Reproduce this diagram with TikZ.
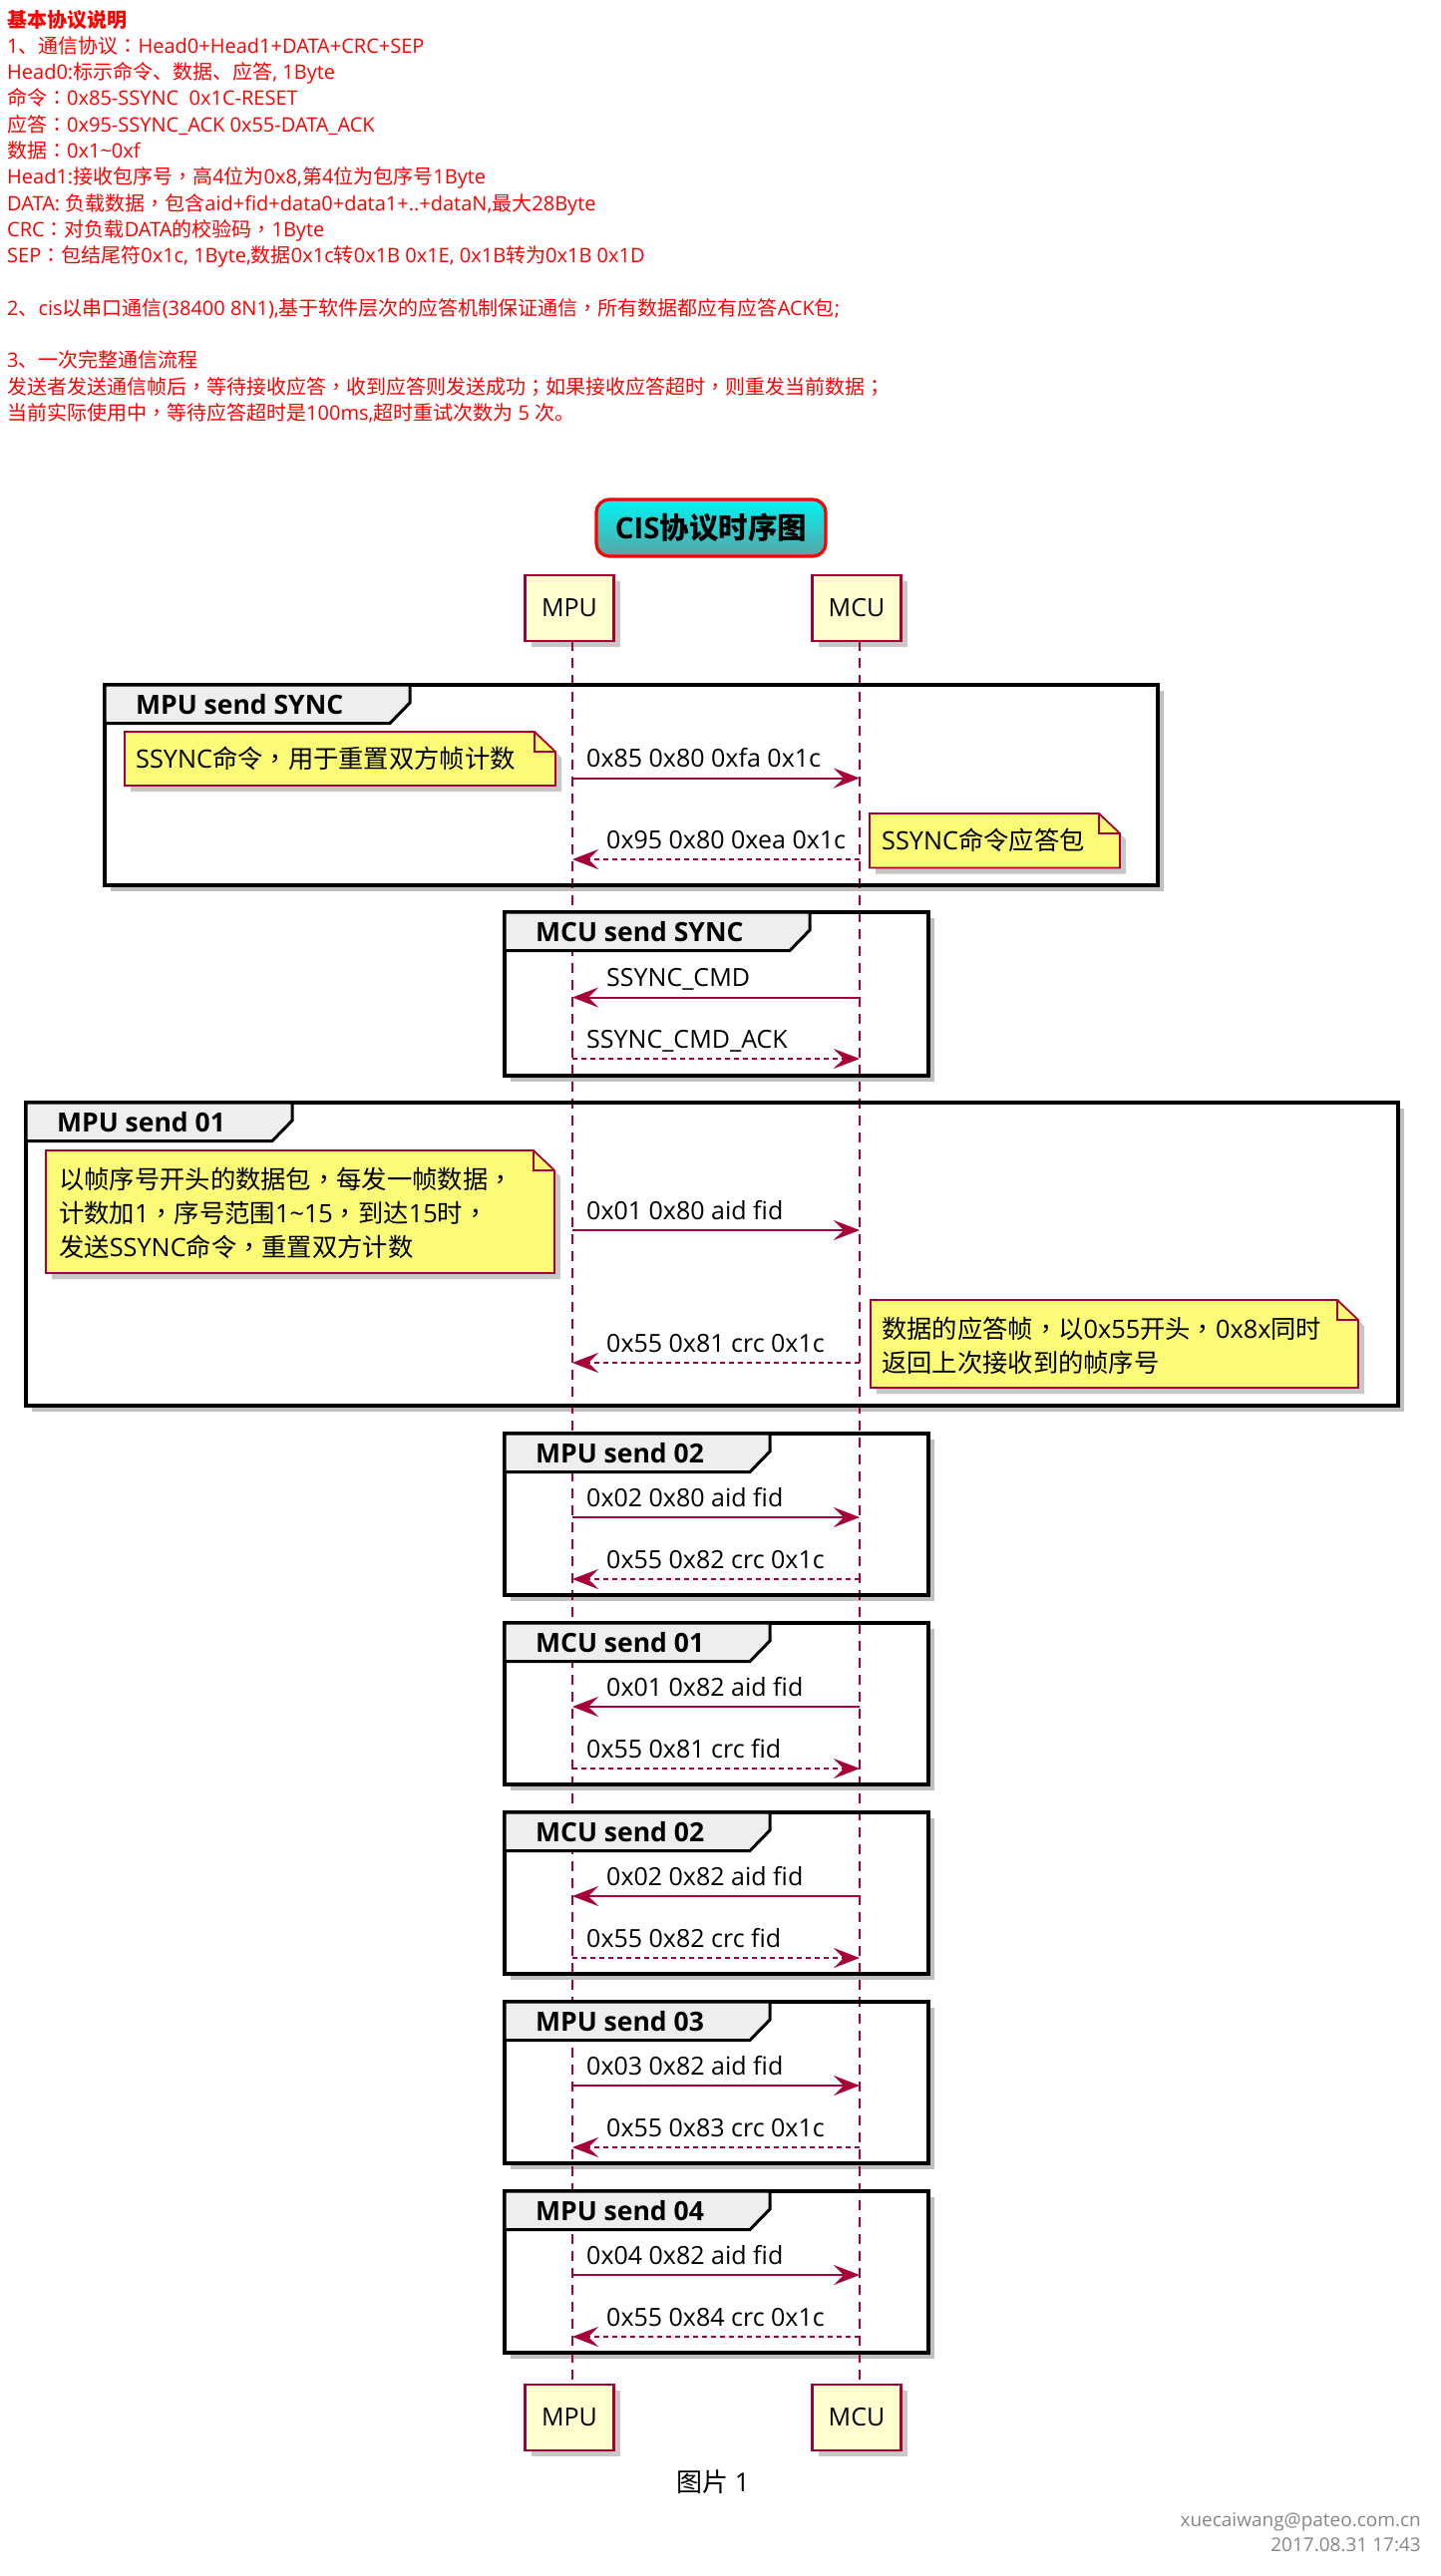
\documentclass[tikz,border=0pt]{standalone}
\usepackage{fontspec}
\setmainfont{Open Sans}
\newfontfamily\cjkf{Noto Sans CJK SC}
\newfontfamily\tcf{Noto Sans CJK TC}
\newfontfamily\latf{Open Sans}
\usetikzlibrary{arrows.meta,shadows}
\XeTeXinterchartokenstate=1
\newXeTeXintercharclass\CJKcls
\newXeTeXintercharclass\PUNcls
\newcount\cjkcnt
\cjkcnt="3000 \loop \XeTeXcharclass\cjkcnt=\CJKcls \advance\cjkcnt by 1 \ifnum\cjkcnt<"3040 \repeat
\cjkcnt="4E00 \loop \XeTeXcharclass\cjkcnt=\CJKcls \advance\cjkcnt by 1 \ifnum\cjkcnt<"A000 \repeat
\cjkcnt="FF00 \loop \XeTeXcharclass\cjkcnt=\CJKcls \advance\cjkcnt by 1 \ifnum\cjkcnt<"FFF0 \repeat
\XeTeXcharclass"FF0C=\PUNcls
\XeTeXcharclass"FF1A=\PUNcls
\XeTeXcharclass"FF1B=\PUNcls
\XeTeXinterchartoks 0 \CJKcls = {\cjkf}
\XeTeXinterchartoks 4095 \CJKcls = {\cjkf}
\XeTeXinterchartoks \PUNcls \CJKcls = {\cjkf}
\XeTeXinterchartoks \CJKcls 0 = {\latf}
\XeTeXinterchartoks \CJKcls 4095 = {\latf}
\XeTeXinterchartoks 0 \PUNcls = {\tcf}
\XeTeXinterchartoks 4095 \PUNcls = {\tcf}
\XeTeXinterchartoks \CJKcls \PUNcls = {\tcf}
\XeTeXinterchartoks \PUNcls 0 = {\latf}
\XeTeXinterchartoks \PUNcls 4095 = {\latf}
\definecolor{pumline}{HTML}{A80036}
\definecolor{pumpart}{HTML}{FEFECE}
\definecolor{pumnote}{HTML}{FBFB77}
\definecolor{tabgray}{HTML}{EEEEEE}
\definecolor{titletop}{HTML}{00F4F4}
\definecolor{titlebot}{HTML}{5AA4A4}
\tikzset{
  hdr/.style={anchor=base west, inner sep=0pt, text=red, font=\fontsize{20}{24}\selectfont},
  part/.style={draw=pumline, fill=pumpart, line width=2.8pt, minimum width=89pt, minimum height=66pt,
    inner sep=0pt, font=\fontsize{25}{30}\selectfont,
    drop shadow={shadow xshift=6pt, shadow yshift=-6pt, fill=black, opacity=0.22}},
  lifeline/.style={draw=pumline, line width=1.6pt, dash pattern=on 10pt off 7pt},
  frmbg/.style={fill=white, drop shadow={shadow xshift=6pt, shadow yshift=-6pt, fill=black, opacity=0.25}},
  frmline/.style={draw=black, line width=4.3pt},
  tabshape/.style={draw=black, line width=3pt, fill=tabgray},
  flabel/.style={anchor=base west, inner sep=0pt, font=\bfseries\fontsize{26.5}{30}\selectfont},
  msgl/.style={anchor=base west, inner sep=0pt, font=\fontsize{25}{30}\selectfont},
  msg/.style={draw=pumline, line width=2pt, -{Stealth[length=26pt,width=20pt,inset=10pt]}},
  rmsg/.style={msg, dash pattern=on 5pt off 4pt},
  noteshape/.style={draw=pumline, fill=pumnote, line width=1.8pt,
    drop shadow={shadow xshift=6pt, shadow yshift=-6pt, fill=black, opacity=0.22}},
  notefold/.style={draw=pumline, line width=1.8pt},
  notetext/.style={anchor=base west, inner sep=0pt, font=\fontsize{25.3}{30}\selectfont},
  foot/.style={anchor=base east, inner sep=0pt, text=black!47, font=\fontsize{19}{24}\selectfont}
}
\newcommand\pnote[4]{% x1 y1 x2 y2
  \path[noteshape] (#1,#2) -- (#3-21,#2) -- (#3,#2+20) -- (#3,#4) -- (#1,#4) -- cycle;
  \draw[notefold] (#3-21,#2) -- (#3-21,#2+20) -- (#3,#2+20);
}
\newcommand\ptab[3]{% left top tabright
  \draw[tabshape] (#1,#2) -- (#3,#2) -- (#3,#2+18) -- (#3-20,#2+38.5) -- (#1,#2+38.5) -- cycle;
}
\begin{document}
\begin{tikzpicture}[x=1pt,y=-1pt]
\fill[white] (0,0) rectangle (1444,2584);
\useasboundingbox (0,0) rectangle (1444,2584);

% ---------- header ----------
\node[hdr, font=\bfseries\fontsize{20}{24}\selectfont] (h1) at (7,27) {基本协议说明};
\node[hdr] (h2) at (7,53.3) {1、通信协议：Head0+Head1+DATA+CRC+SEP};
\node[hdr] (h3) at (7,79.6) {Head0:标示命令、数据、应答, 1Byte};
\node[hdr] (h4) at (7,105.9) {命令：0x85-SSYNC\ \ 0x1C-RESET};
\node[hdr] (h5) at (7,132.2) {应答：0x95-SSYNC\_ACK 0x55-DATA\_ACK};
\node[hdr] (h6) at (7,158.5) {数据：0x1\textasciitilde{}0xf};
\node[hdr] (h7) at (7,184.8) {Head1:接收包序号，高4位为0x8,第4位为包序号1Byte};
\node[hdr] (h8) at (7,211.1) {DATA: 负载数据，包含aid+fid+data0+data1+..+dataN,最大28Byte};
\node[hdr] (h9) at (7,237.4) {CRC：对负载DATA的校验码，1Byte};
\node[hdr] (h10) at (7,263.7) {SEP：包结尾符0x1c, 1Byte,数据0x1c转0x1B 0x1E, 0x1B转为0x1B 0x1D};
\node[hdr] (h11) at (7,316.3) {2、cis以串口通信(38400 8N1),基于软件层次的应答机制保证通信，所有数据都应有应答ACK包;};
\node[hdr] (h12) at (7,368.9) {3、一次完整通信流程};
\node[hdr] (h13) at (7,395.2) {发送者发送通信帧后，等待接收应答，收到应答则发送成功；如果接收应答超时，则重发当前数据；};
\node[hdr] (h14) at (7,421.5) {当前实际使用中，等待应答超时是100ms,超时重试次数为 5 次。};

% ---------- title ----------
\node[draw=red, line width=3.2pt, rounded corners=13pt, top color=titletop, bottom color=titlebot,
  minimum width=230pt, minimum height=57pt, inner sep=0pt,
  font=\bfseries\fontsize{29.5}{34}\selectfont] (title) at (713,529.5) {CIS协议时序图};

% ---------- frame backgrounds ----------
\path[frmbg] (105,687) rectangle (1161,888);
\path[frmbg] (506,915) rectangle (931,1079);
\path[frmbg] (26,1106) rectangle (1402,1410);
\foreach \t in {1438,1628,1818,2008,2198} {\path[frmbg] (506,\t) rectangle (931,\t+162);}

% ---------- participants ----------
\node[part] (mpuT) at (571,610) {MPU};
\node[part] (mcuT) at (859,610) {MCU};
\node[part] (mpuB) at (571,2425) {MPU};
\node[part] (mcuB) at (859,2425) {MCU};
\coordinate (mpuTop) at (574,643);
\coordinate (mcuTop) at (862,643);
\coordinate (mpuBot) at (574,2392);
\coordinate (mcuBot) at (862,2392);
\draw[lifeline] (mpuTop) -- (mpuBot);
\draw[lifeline] (mcuTop) -- (mcuBot);

% ---------- frame borders, tabs, labels ----------
\draw[frmline] (105,687) rectangle (1161,888);
\ptab{105}{687}{411}
\node[flabel] (f1) at (136,716) {MPU send SYNC};

\draw[frmline] (506,915) rectangle (931,1079);
\ptab{506}{915}{812}
\node[flabel] (f2) at (537,944) {MCU send SYNC};

\draw[frmline] (26,1106) rectangle (1402,1410);
\ptab{26}{1106}{293}
\node[flabel] (f3) at (57,1135) {MPU send 01};

\foreach \t/\lab in {1438/MPU send 02,1628/MCU send 01,1818/MCU send 02,2008/MPU send 03,2198/MPU send 04} {
  \draw[frmline] (506,\t) rectangle (931,\t+162);
  \ptab{506}{\t}{772}
  \node[flabel] at (537,\t+29) {\lab};
}

% ---------- frame 1: MPU send SYNC ----------
\pnote{125}{734}{557}{788}
\node[notetext] (n1) at (136,770) {SSYNC命令，用于重置双方帧计数};
\coordinate (a1p) at (574,780.5);
\coordinate (a1c) at (862,780.5);
\draw[msg] (a1p) -- (a1c);
\node[msgl] (l1) at (588,769.5) {0x85 0x80 0xfa 0x1c};
\coordinate (a2c) at (862,862);
\coordinate (a2p) at (574,862);
\draw[rmsg] (a2c) -- (a2p);
\node[msgl] (l2) at (608,851) {0x95 0x80 0xea 0x1c};
\pnote{872}{816}{1123}{870.5}
\node[notetext] (n2) at (884,852) {SSYNC命令应答包};

% ---------- frame 2: MCU send SYNC ----------
\coordinate (b1c) at (862,1000.5);
\coordinate (b1p) at (574,1000.5);
\draw[msg] (b1c) -- (b1p);
\node[msgl] (l3) at (608,989.5) {SSYNC\_CMD};
\coordinate (b2p) at (574,1062);
\coordinate (b2c) at (862,1062);
\draw[rmsg] (b2p) -- (b2c);
\node[msgl] (l4) at (588,1051) {SSYNC\_CMD\_ACK};

% ---------- frame 3: MPU send 01 ----------
\pnote{46}{1154}{556}{1277}
\node[notetext] (n3a) at (59,1192) {以帧序号开头的数据包，每发一帧数据，};
\node[notetext] (n3b) at (59,1226) {计数加1，序号范围1\textasciitilde{}15，到达15时，};
\node[notetext] (n3c) at (59,1260) {发送SSYNC命令，重置双方计数};
\coordinate (c1p) at (574,1234);
\coordinate (c1c) at (862,1234);
\draw[msg] (c1p) -- (c1c);
\node[msgl] (l5) at (588,1223) {0x01 0x80 aid fid};
\pnote{873}{1304}{1362}{1392}
\node[notetext] (n4a) at (884,1342) {数据的应答帧，以0x55开头，0x8x同时};
\node[notetext] (n4b) at (884,1376) {返回上次接收到的帧序号};
\coordinate (c2c) at (862,1367);
\coordinate (c2p) at (574,1367);
\draw[rmsg] (c2c) -- (c2p);
\node[msgl] (l6) at (608,1356) {0x55 0x81 crc 0x1c};

% ---------- frame 4: MPU send 02 ----------
\coordinate (d1p) at (574,1522);
\coordinate (d1c) at (862,1522);
\draw[msg] (d1p) -- (d1c);
\node[msgl] (l7) at (588,1511) {0x02 0x80 aid fid};
\coordinate (d2c) at (862,1584);
\coordinate (d2p) at (574,1584);
\draw[rmsg] (d2c) -- (d2p);
\node[msgl] (l8) at (608,1573) {0x55 0x82 crc 0x1c};

% ---------- frame 5: MCU send 01 ----------
\coordinate (e1c) at (862,1712);
\coordinate (e1p) at (574,1712);
\draw[msg] (e1c) -- (e1p);
\node[msgl] (l9) at (608,1701) {0x01 0x82 aid fid};
\coordinate (e2p) at (574,1774);
\coordinate (e2c) at (862,1774);
\draw[rmsg] (e2p) -- (e2c);
\node[msgl] (l10) at (588,1763) {0x55 0x81 crc fid};

% ---------- frame 6: MCU send 02 ----------
\coordinate (g1c) at (862,1902);
\coordinate (g1p) at (574,1902);
\draw[msg] (g1c) -- (g1p);
\node[msgl] (l11) at (608,1891) {0x02 0x82 aid fid};
\coordinate (g2p) at (574,1964);
\coordinate (g2c) at (862,1964);
\draw[rmsg] (g2p) -- (g2c);
\node[msgl] (l12) at (588,1953) {0x55 0x82 crc fid};

% ---------- frame 7: MPU send 03 ----------
\coordinate (k1p) at (574,2092);
\coordinate (k1c) at (862,2092);
\draw[msg] (k1p) -- (k1c);
\node[msgl] (l13) at (588,2081) {0x03 0x82 aid fid};
\coordinate (k2c) at (862,2154);
\coordinate (k2p) at (574,2154);
\draw[rmsg] (k2c) -- (k2p);
\node[msgl] (l14) at (608,2143) {0x55 0x83 crc 0x1c};

% ---------- frame 8: MPU send 04 ----------
\coordinate (m1p) at (574,2282);
\coordinate (m1c) at (862,2282);
\draw[msg] (m1p) -- (m1c);
\node[msgl] (l15) at (588,2271) {0x04 0x82 aid fid};
\coordinate (m2c) at (862,2344);
\coordinate (m2p) at (574,2344);
\draw[rmsg] (m2c) -- (m2p);
\node[msgl] (l16) at (608,2333) {0x55 0x84 crc 0x1c};

% ---------- caption and footer ----------
\node[inner sep=0pt, font=\fontsize{26}{30}\selectfont] (cap) at (715,2490) {图片 1};
\node[foot] (ft1) at (1425,2534) {xuecaiwang@pateo.com.cn};
\node[foot] (ft2) at (1425,2559) {2017.08.31 17:43};
\end{tikzpicture}
\end{document}
